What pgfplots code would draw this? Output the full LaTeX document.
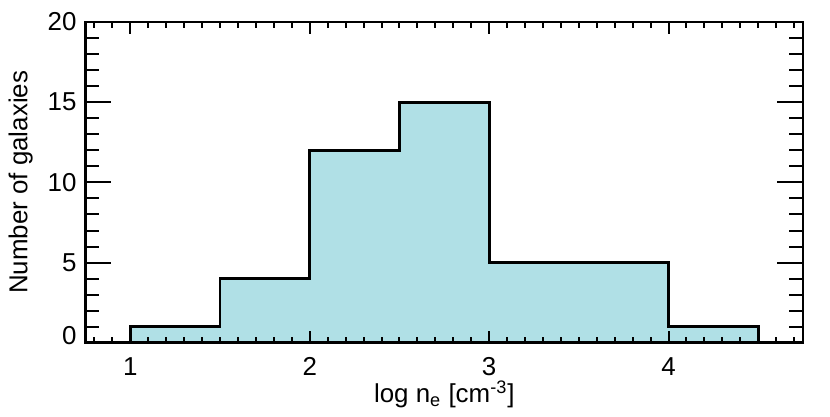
\documentclass[border=0pt]{standalone}
\usepackage{fontspec}
\setmainfont{Liberation Sans}
\usepackage{pgfplots}
\pgfplotsset{compat=1.18}
\definecolor{HistFill}{HTML}{B0E0E6}

\pgfplotsset{
  frame/.style={
    scale only axis,
    width=360pt,
    height=161pt,
    xmin=0.75, xmax=4.75,
    ymin=0, ymax=20,
    xtick pos=both,
    ytick pos=both,
    tick align=inside,
    axis line style={line width=1.4pt},
  },
  tickonly/.style={
    frame,
    xticklabels={}, yticklabels={},
    minor tick num=0,
    major tick style={draw=black,line width=1pt},
  },
}

\begin{document}
\fontsize{13}{15}\selectfont
\begin{tikzpicture}
% main axis: histogram and labels
\begin{axis}[
  frame,
  xtick={1,2,3,4},
  ytick={0,5,10,15,20},
  xticklabel pos=bottom,
  yticklabel pos=left,
  yticklabels={\raisebox{7pt}{0},5,10,15,\raisebox{-5.7pt}{20}},
  major tick style={draw=none},
  /pgf/number format/assume math mode=true,
  ticklabel style={font=\fontsize{13}{15}\selectfont},
  xticklabel style={yshift=-3pt},
  xlabel={log n\textsubscript{e} [cm\textsuperscript{-3}]},
  ylabel={Number of galaxies},
  xlabel style={at={(axis description cs:0.5,-0.186)},anchor=base},
  ylabel style={at={(axis description cs:-0.0903,0.5)},anchor=center},
  label style={font=\fontsize{13}{15}\selectfont},
  clip=false,
]
\addplot[const plot mark left, fill=HistFill, draw=black, line width=1.4pt, line join=miter]
  coordinates {(1,0) (1,1) (1.5,4) (2,12) (2.5,15) (3,5) (3.5,5) (4,1) (4.5,1) (4.5,0)};
% x ticks, bottom and top
\pgfplotsinvokeforeach{1,2,3,4}{
  \draw[line width=1pt] (axis cs:#1,0) -- ++(0pt,6pt);
  \draw[line width=1pt] (axis cs:#1,20) -- ++(0pt,-6pt);
}
\pgfplotsinvokeforeach{0.8,0.9,1.1,1.2,1.3,1.4,1.5,1.6,1.7,1.8,1.9,2.1,2.2,2.3,2.4,2.5,2.6,2.7,2.8,2.9,3.1,3.2,3.3,3.4,3.5,3.6,3.7,3.8,3.9,4.1,4.2,4.3,4.4,4.5,4.6,4.7}{
  \draw[line width=1pt] (axis cs:#1,0) -- ++(0pt,3pt);
  \draw[line width=1pt] (axis cs:#1,20) -- ++(0pt,-3pt);
}
\path (rel axis cs:-0.1153,-0.2205) rectangle (rel axis cs:1.0375,1.0683);
\end{axis}
% y major ticks
\begin{axis}[tickonly, xtick=\empty, ytick={0,5,10,15,20}, major tick length=13pt]
\end{axis}
% y minor ticks
\begin{axis}[tickonly, xtick=\empty,
  ytick={1,2,3,4,6,7,8,9,11,12,13,14,16,17,18,19}, major tick length=7pt]
\end{axis}
\end{tikzpicture}
\end{document}
